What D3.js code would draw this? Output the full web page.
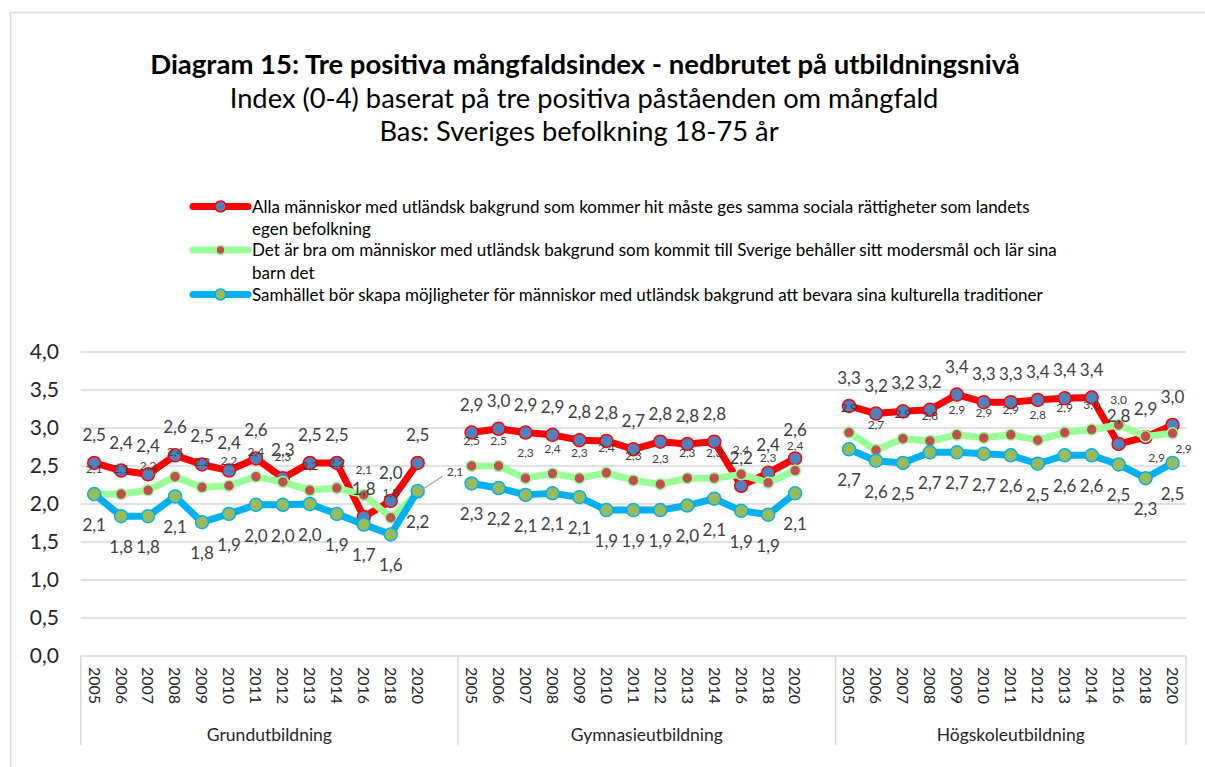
<!DOCTYPE html>
<html>
<head>
<meta charset="utf-8">
<script src="https://cdn.jsdelivr.net/npm/d3@7"></script>
<style>
  body { margin: 0; background: #fff; }
  svg text { font-family: Lato, "Open Sans", sans-serif; }
</style>
</head>
<body>
<div id="chart"></div>
<script>
// categories
const levels = ["Grundutbildning", "Gymnasieutbildning", "Högskoleutbildning"];
const years = ["2005", "2006", "2007", "2008", "2009", "2010", "2011", "2012", "2013", "2014", "2016", "2018", "2020"];

// Alla människor ... samma sociala rättigheter
const rattGrund = [2.54, 2.44, 2.39, 2.64, 2.52, 2.44, 2.60, 2.34, 2.54, 2.54, 1.83, 2.04, 2.54];
const rattGymn = [2.94, 2.99, 2.94, 2.91, 2.84, 2.83, 2.72, 2.82, 2.79, 2.82, 2.24, 2.41, 2.60];
const rattHogsk = [3.29, 3.19, 3.22, 3.24, 3.44, 3.34, 3.34, 3.37, 3.39, 3.40, 2.79, 2.88, 3.04];

// Det är bra ... behåller sitt modersmål
const modersGrund = [2.13, 2.13, 2.18, 2.36, 2.22, 2.24, 2.36, 2.29, 2.18, 2.21, 2.12, 1.82, 2.14];
const modersGymn = [2.50, 2.50, 2.34, 2.40, 2.34, 2.41, 2.31, 2.26, 2.34, 2.34, 2.39, 2.28, 2.44];
const modersHogsk = [2.94, 2.71, 2.86, 2.83, 2.91, 2.87, 2.91, 2.84, 2.94, 2.98, 3.04, 2.89, 2.93];

// Samhället bör skapa möjligheter ... kulturella traditioner
const kulturGrund = [2.13, 1.84, 1.84, 2.10, 1.76, 1.87, 1.99, 1.99, 2.00, 1.87, 1.73, 1.60, 2.17];
const kulturGymn = [2.27, 2.21, 2.12, 2.14, 2.09, 1.92, 1.92, 1.92, 1.98, 2.07, 1.91, 1.86, 2.14];
const kulturHogsk = [2.72, 2.57, 2.54, 2.68, 2.68, 2.66, 2.64, 2.53, 2.64, 2.64, 2.52, 2.34, 2.54];

const yTicks = [0, 0.5, 1, 1.5, 2, 2.5, 3, 3.5, 4];

const seriesDefs = [
    {
        name: ["Alla människor med utländsk bakgrund som kommer hit måste ges samma sociala rättigheter som landets", "egen befolkning"],
        values: [rattGrund, rattGymn, rattHogsk],
        line: "#ff0000", marker: "#4f81bd", r: 6.5, labelSize: 17, labelDy: -28
    },
    {
        name: ["Det är bra om människor med utländsk bakgrund som kommit till Sverige behåller sitt modersmål och lär sina", "barn det"],
        values: [modersGrund, modersGymn, modersHogsk],
        line: "#99ff99", marker: "#c0504d", r: 5.5, labelSize: 12, labelDy: -25
    },
    {
        name: ["Samhället bör skapa möjligheter för människor med utländsk bakgrund att bevara sina kulturella traditioner"],
        values: [kulturGrund, kulturGymn, kulturHogsk],
        line: "#00b0f0", marker: "#9bbb59", r: 6.5, labelSize: 17, labelDy: 31
    }
];

// a few labels excel moved by hand (series index, level, year index)
const labelMoves = {
    "1-0-12": {dx: 29, dy: -22, leader: true},
    "1-2-11": {dx: 11, dy: 21},
    "1-2-12": {dx: 11, dy: 15}
};

const width = 1205, height = 767;
const svg = d3.select("#chart").append("svg")
    .attr("width", width)
    .attr("height", height);

svg.append("rect").attr("width", width).attr("height", height).attr("fill", "#fff");
svg.append("path")
    .attr("d", "M10.5,800 V12.5 H1210")
    .attr("fill", "none")
    .attr("stroke", "#d9d9d9")
    .attr("stroke-width", 1.5);

// titles
svg.append("text").attr("x", 585).attr("y", 74).attr("text-anchor", "middle")
    .style("font-size", "27.5px").style("font-weight", "bold").attr("fill", "#000")
    .text("Diagram 15: Tre positiva mångfaldsindex - nedbrutet på utbildningsnivå");
svg.append("text").attr("x", 584).attr("y", 108).attr("text-anchor", "middle")
    .style("font-size", "27.3px").attr("fill", "#000")
    .text("Index (0-4) baserat på tre positiva påståenden om mångfald");
svg.append("text").attr("x", 579).attr("y", 141).attr("text-anchor", "middle")
    .style("font-size", "27.3px").attr("fill", "#000")
    .text("Bas: Sveriges befolkning 18-75 år");

// slots: 14 per level (13 years + a blank one), last level without blank
const slots = [];
levels.forEach((lv, g) => {
    years.forEach((yr, i) => slots.push(g + "-" + i));
    if (g < levels.length - 1) slots.push(g + "-blank");
});

const x = d3.scaleBand().domain(slots).range([80.7, 1186]).padding(0);
const y = d3.scaleLinear().domain([0, 4]).range([656, 352]);
const cx = (g, i) => x(g + "-" + i) + x.bandwidth() / 2;

// gridlines
svg.append("g").selectAll("line")
    .data(yTicks)
    .enter().append("line")
    .attr("x1", 80.7).attr("x2", 1186)
    .attr("y1", d => y(d)).attr("y2", d => y(d))
    .attr("stroke", "#d9d9d9").attr("stroke-width", 1.5);

// y tick labels
const fmt = v => d3.format(".1f")(v).replace(".", ",");
svg.append("g").selectAll("text")
    .data(yTicks)
    .enter().append("text")
    .attr("x", 59).attr("y", d => y(d)).attr("dy", "0.35em")
    .attr("text-anchor", "end")
    .style("font-size", "21px").attr("fill", "#262626")
    .text(fmt);

// category axis separators
const sepX = levels.map((lv, g) => x(g + "-0")).concat([1186]);
svg.append("g").selectAll("line")
    .data(sepX)
    .enter().append("line")
    .attr("x1", d => d).attr("x2", d => d)
    .attr("y1", 656).attr("y2", 745)
    .attr("stroke", "#d9d9d9").attr("stroke-width", 1.5);

// year labels
const yearG = svg.append("g");
levels.forEach((lv, g) => {
    years.forEach((yr, i) => {
        yearG.append("text")
            .attr("transform", `translate(${cx(g, i)},667) rotate(90)`)
            .attr("dy", "0.35em")
            .style("font-size", "16px").attr("fill", "#262626")
            .text(yr);
    });
    svg.append("text")
        .attr("x", (sepX[g] + sepX[g + 1]) / 2).attr("y", 741)
        .attr("text-anchor", "middle")
        .style("font-size", "17.5px").attr("fill", "#262626")
        .text(lv);
});

// lines and markers
const line = d3.line().x(d => d.x).y(d => d.y);

seriesDefs.forEach((s, si) => {
    const gS = svg.append("g");
    s.values.forEach((vals, g) => {
        const pts = vals.map((v, i) => ({x: cx(g, i), y: y(v), v: v, i: i}));
        gS.append("path")
            .attr("d", line(pts))
            .attr("fill", "none")
            .attr("stroke", s.line)
            .attr("stroke-width", 7)
            .attr("stroke-linejoin", "round");
        gS.selectAll(null)
            .data(pts)
            .enter().append("circle")
            .attr("cx", d => d.x).attr("cy", d => d.y)
            .attr("r", s.r)
            .attr("fill", s.marker)
            .attr("stroke", s.line)
            .attr("stroke-width", 1.5);
    });
});

// data labels on top
seriesDefs.forEach((s, si) => {
    const gL = svg.append("g");
    s.values.forEach((vals, g) => {
        vals.forEach((v, i) => {
            const mv = labelMoves[si + "-" + g + "-" + i] || {dx: 0, dy: s.labelDy};
            const px = cx(g, i), py = y(v);
            if (mv.leader) {
                gL.append("line")
                    .attr("x1", px + 2).attr("y1", py - 2)
                    .attr("x2", px + mv.dx - 4).attr("y2", py + mv.dy + 5)
                    .attr("stroke", "#a6a6a6").attr("stroke-width", 1.2);
            }
            gL.append("text")
                .attr("x", px + mv.dx).attr("y", py + mv.dy)
                .attr("dy", "0.35em")
                .attr("text-anchor", mv.leader ? "start" : "middle")
                .style("font-size", s.labelSize + "px")
                .attr("fill", "#404040")
                .text(fmt(v));
        });
    });
});

// legend
const legendY = [206.5, 250, 294.5];
seriesDefs.forEach((s, si) => {
    const lg = svg.append("g").attr("transform", `translate(0,${legendY[si]})`);
    lg.append("line")
        .attr("x1", 193).attr("x2", 248)
        .attr("stroke", s.line).attr("stroke-width", 7)
        .attr("stroke-linecap", "round");
    lg.append("circle")
        .attr("cx", 220.5).attr("r", si === 1 ? 4.5 : 5.5)
        .attr("fill", s.marker).attr("stroke", s.line).attr("stroke-width", 1.5);
    s.name.forEach((t, k) => {
        lg.append("text")
            .attr("x", 252).attr("y", 6 + k * 22.5)
            .style("font-size", "17px").attr("fill", "#000")
            .text(t);
    });
});
</script>
</body>
</html>
